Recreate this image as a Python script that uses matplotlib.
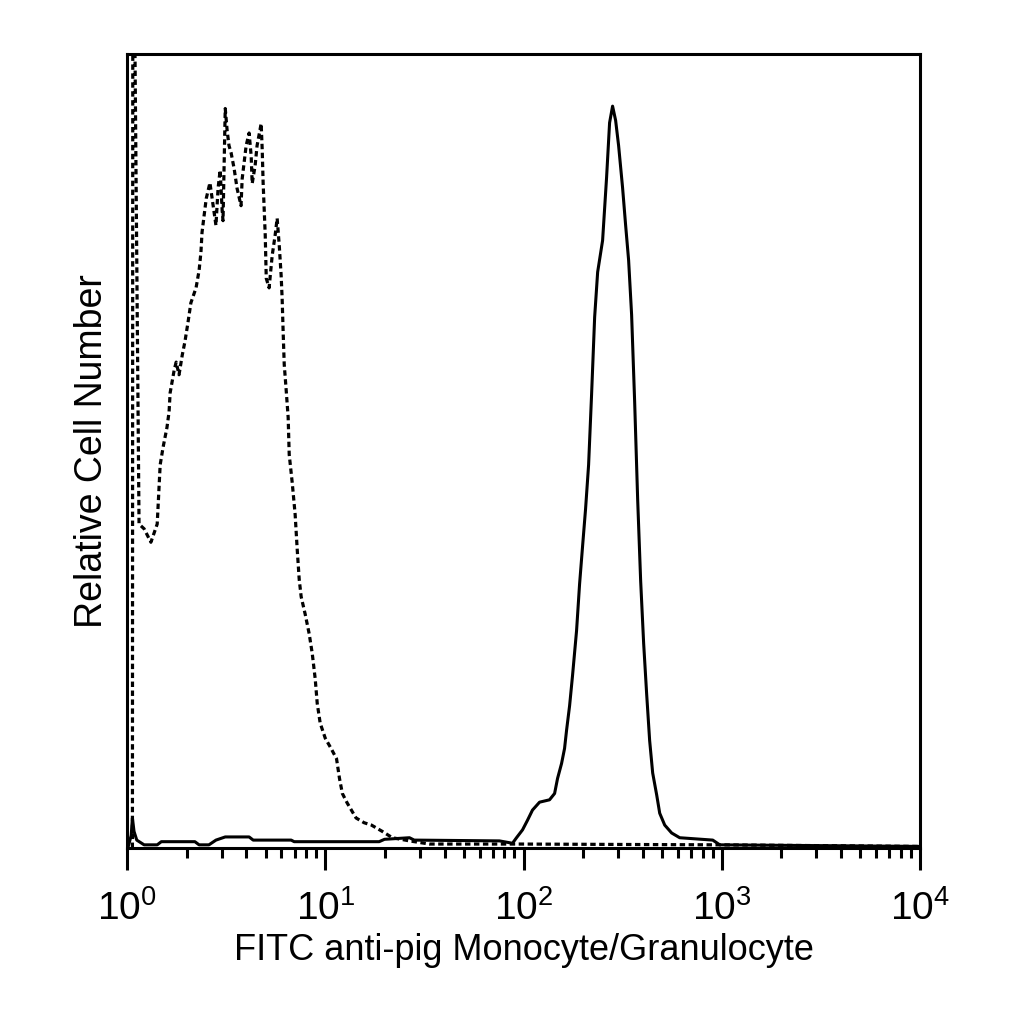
import matplotlib
matplotlib.use("Agg")
import matplotlib.pyplot as plt

plt.rcParams['font.family'] = ['Liberation Sans', 'DejaVu Sans']
plt.rcParams['mathtext.fontset'] = 'custom'
plt.rcParams['mathtext.rm'] = 'Liberation Sans'
plt.rcParams['mathtext.it'] = 'Liberation Sans'

# isotype control (dashed) - fluorescence vs relative count (0-100)
ctrl_x = [1.065, 1.07, 1.085, 1.15, 1.22, 1.32, 1.42, 1.47, 1.52, 1.59, 1.63, 1.65,
          1.73, 1.77, 1.83, 1.90, 1.96, 2.03, 2.10, 2.23, 2.31, 2.36, 2.39, 2.45,
          2.51, 2.62, 2.72, 2.81, 2.88, 2.95, 3.02, 3.05, 3.13, 3.20, 3.27, 3.35,
          3.47, 3.59, 3.76, 3.81, 3.99, 4.13, 4.23, 4.28, 4.43, 4.53, 4.75, 4.81,
          4.86, 4.98, 5.04, 5.21, 5.40, 5.59, 5.72, 5.86, 5.99, 6.06, 6.14, 6.21,
          6.35, 6.50, 6.58, 6.81, 7.05, 7.22, 7.39, 7.56, 7.92, 8.30, 8.60, 8.90,
          9.11, 9.43, 10.0, 10.7, 11.4, 11.8, 12.2, 12.9, 14.3, 15.7, 17.1, 19.4,
          21.8, 26.6, 33.5, 95.5, 977, 10000]
ctrl_y = [0, 115, 115, 41.0, 40.4, 38.7, 41.0, 48.5, 50.7, 53.2, 55.2, 57.6,
          60.5, 61.5, 59.9, 62.4, 64.1, 66.5, 69.0, 70.9, 73.1, 75.4, 77.9, 80.1,
          82.2, 84.2, 81.3, 78.8, 83.5, 85.8, 80.7, 79.4, 93.6, 90.8, 88.9, 88.0,
          86.0, 83.5, 81.3, 84.7, 88.9, 90.5, 87.6, 84.1, 86.4, 88.9, 91.7, 88.3,
          84.2, 77.6, 72.1, 70.9, 75.0, 77.6, 79.7, 76.3, 72.5, 69.6, 64.9, 61.2,
          58.0, 54.5, 49.8, 46.3, 42.2, 37.8, 34.0, 31.8, 29.6, 27.1, 24.6, 21.4,
          18.3, 15.8, 13.9, 12.6, 11.3, 8.8, 6.9, 5.7, 3.8, 3.2, 2.9, 2.1,
          1.3, 0.9, 0.5, 0.5, 0.4, 0.2]

# antibody stained sample (solid)
stain_x = [1.01, 1.05, 1.065, 1.085, 1.12, 1.22, 1.42, 1.49, 2.20, 2.31, 2.59, 2.81,
           3.13, 4.13, 4.33, 6.73, 6.97, 18.7, 19.9, 26.6, 28.1, 75.6, 88.0, 92.2,
           98.9, 104.7, 111, 120.5, 135.3, 143.5, 148.5, 155.6, 161.1, 164.9, 170.8,
           176.7, 185.2, 191.8, 198.6, 205.6, 213, 220.5, 228.5, 236.6, 250.6, 262.5,
           271.8, 281.4, 291.5, 301.8, 316, 327.5, 339, 351, 363.6, 376.6, 389.9,
           403.7, 418, 432.8, 448.3, 469.8, 486.5, 515.6, 558.9, 613.6, 901, 977, 10000]
stain_y = [0, 1.6, 3.8, 2.1, 1.0, 0.4, 0.4, 0.8, 0.8, 0.4, 0.4, 1.0,
           1.4, 1.4, 1.0, 1.0, 0.8, 0.8, 1.1, 1.3, 1.0, 0.9, 0.6, 1.3,
           2.3, 3.5, 4.8, 5.8, 6.1, 6.9, 8.8, 10.7, 12.6, 14.9, 18.0,
           21.8, 27.5, 33.4, 38.2, 42.9, 48.5, 57.4, 67.2, 72.9, 76.9, 84.9,
           91.8, 93.9, 92.1, 88.9, 83.6, 78.8, 74.4, 67.5, 56.5, 44.1, 33.8,
           25.9, 19.5, 13.6, 9.5, 6.7, 4.4, 2.9, 1.9, 1.3, 1.0, 0.4, 0.2]

fig = plt.figure(figsize=(10.24, 10.24), dpi=100)
ax = fig.add_axes([127 / 1024, 1 - 848 / 1024, 793 / 1024, 794 / 1024])

ax.plot(ctrl_x, ctrl_y, color='black', lw=2.3, linestyle=(0, (1.7, 1.1)))
ax.plot(stain_x, stain_y, color='black', lw=2.2)

ax.set_xscale('log')
ax.set_xlim(1, 10000)
ax.set_ylim(0, 100.5)
ax.set_yticks([])

for s in ax.spines.values():
    s.set_linewidth(2.2)

ax.tick_params(axis='x', which='major', direction='out', length=16, width=2.2,
               labelsize=28, pad=14)
ax.tick_params(axis='x', which='minor', direction='out', length=7, width=2.2)

ax.set_xlabel('FITC anti-pig Monocyte/Granulocyte', fontsize=26, labelpad=4)
ax.set_ylabel('Relative Cell Number', fontsize=27, labelpad=12)

fig.savefig('out.png', dpi=100)
